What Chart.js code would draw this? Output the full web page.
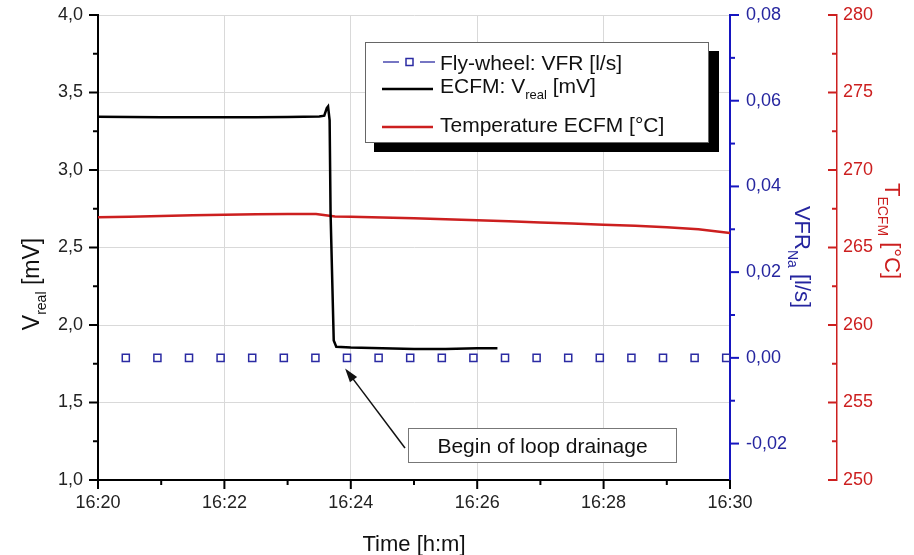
<!DOCTYPE html>
<html>
<head>
<meta charset="utf-8">
<script src="https://cdn.jsdelivr.net/npm/chart.js@4/dist/chart.umd.min.js"></script>
<style>
  html, body { margin: 0; padding: 0; background: #fff; }
</style>
</head>
<body>
<canvas id="myChart" width="914" height="555"></canvas>
<script>
// time is given in minutes after 16:20
const xTickLabels = ['16:20', '16:22', '16:24', '16:26', '16:28', '16:30']

// ECFM: V_real [mV]
const vTime = [0, 0.5, 1, 1.5, 2, 2.5, 3, 3.5, 3.58, 3.62, 3.64, 3.665, 3.68, 3.73, 3.77, 4, 4.5, 5, 5.5, 6, 6.32]
const vReal = [3.343, 3.342, 3.34, 3.34, 3.34, 3.341, 3.342, 3.345, 3.35, 3.40, 3.41, 3.32, 2.72, 1.90, 1.86, 1.855, 1.85, 1.845, 1.845, 1.85, 1.85]

// Temperature ECFM [°C]
const tTime = [0, 0.5, 1, 1.5, 2, 2.5, 3, 3.45, 3.6, 3.75, 4, 4.5, 5, 5.5, 6, 6.5, 7, 7.5, 8, 8.5, 9, 9.5, 10]
const tEcfm = [266.95, 266.99, 267.04, 267.08, 267.11, 267.14, 267.16, 267.16, 267.08, 267.0, 266.98, 266.93, 266.88, 266.83, 266.76, 266.69, 266.62, 266.55, 266.47, 266.4, 266.3, 266.18, 265.94]

// Fly-wheel: VFR [l/s]
const vfrTime = [0.44, 0.94, 1.44, 1.94, 2.44, 2.94, 3.44, 3.94, 4.44, 4.94, 5.44, 5.94, 6.44, 6.94, 7.44, 7.94, 8.44, 8.94, 9.44, 9.94]
const vfr = [0, 0, 0, 0, 0, 0, 0, 0, 0, 0, 0, 0, 0, 0, 0, 0, 0, 0, 0, 0]

const FONT = '"Liberation Sans", Arial, sans-serif'
const BLUE = '#1616c0'
const BLUE_TXT = '#25259f'
const RED = '#cc1f1f'
const GRID = '#d9d9d9'

const pts = (xs, ys) => xs.map((x, i) => ({ x: x, y: ys[i] }))
const comma = (v, d) => v.toFixed(d).replace('.', ',')

function minorTicks(ctx, scale, from, to, step, isMajor, side, color) {
  ctx.save()
  ctx.strokeStyle = color
  ctx.lineWidth = 2
  for (let v = from; v <= to + 1e-9; v += step) {
    const len = isMajor(v) ? 9 : 5
    ctx.beginPath()
    if (side === 'down') {
      const p = scale.getPixelForValue(v)
      ctx.moveTo(p, scale.top); ctx.lineTo(p, scale.top + len)
    } else if (side === 'left') {
      const p = scale.getPixelForValue(v)
      ctx.moveTo(scale.right, p); ctx.lineTo(scale.right - len, p)
    } else if (side === 'right') {
      const p = scale.getPixelForValue(v)
      ctx.moveTo(scale.left, p); ctx.lineTo(scale.left + len, p)
    } else if (side === 'inLeft') {
      const p = scale.getPixelForValue(v)
      ctx.moveTo(scale.left, p); ctx.lineTo(scale.left - len, p)
    }
    ctx.stroke()
  }
  ctx.restore()
}

// text with a subscript part, written along the current x direction
function subText(ctx, parts, x, y, size, subSize) {
  let cx = x
  parts.forEach(p => {
    ctx.font = (p.sub ? subSize : size) + 'px ' + FONT
    ctx.fillText(p.t, cx, p.sub ? y + size * 0.3 : y)
    cx += ctx.measureText(p.t).width
  })
  return cx - x
}
function subWidth(ctx, parts, size, subSize) {
  let w = 0
  parts.forEach(p => {
    ctx.font = (p.sub ? subSize : size) + 'px ' + FONT
    w += ctx.measureText(p.t).width
  })
  return w
}

function rotTitle(ctx, parts, cx, cy, angle, color, size) {
  const subSize = 14
  ctx.save()
  ctx.fillStyle = color
  ctx.textBaseline = 'alphabetic'
  ctx.translate(cx, cy)
  ctx.rotate(angle)
  const w = subWidth(ctx, parts, size, subSize)
  subText(ctx, parts, -w / 2, 8, size, subSize)
  ctx.restore()
}

// no extra room above/below the vertical axes, the plot starts at the layout padding
const noPad = s => { s.paddingTop = 0; s.paddingBottom = 0 }

const extras = {
  id: 'extras',
  afterDraw(chart) {
    const ctx = chart.ctx
    const s = chart.scales
    minorTicks(ctx, s.x, 0, 10, 1, v => Math.round(v) % 2 === 0, 'down', '#000')
    minorTicks(ctx, s.y, 1, 4, 0.25, v => Math.abs(v * 2 - Math.round(v * 2)) < 1e-6, 'left', '#000')
    minorTicks(ctx, s.yB, -0.02, 0.08, 0.01, v => Math.round(v * 100) % 2 === 0, 'right', BLUE)
    minorTicks(ctx, s.yT, 250, 280, 2.5, v => Math.abs(v / 5 - Math.round(v / 5)) < 1e-6, 'inLeft', RED)

    // axis titles
    rotTitle(ctx, [{ t: 'V' }, { t: 'real', sub: true }, { t: ' [mV]' }], 31, 284, -Math.PI / 2, '#111', 23)
    rotTitle(ctx, [{ t: 'VFR' }, { t: 'Na', sub: true }, { t: ' [l/s]' }], 803, 257, Math.PI / 2, BLUE_TXT, 22)
    rotTitle(ctx, [{ t: 'T' }, { t: 'ECFM', sub: true }, { t: ' [°C]' }], 893, 231, Math.PI / 2, RED, 22)
    ctx.save()
    ctx.fillStyle = '#111'
    ctx.font = '22px ' + FONT
    ctx.textAlign = 'center'
    ctx.fillText('Time [h:m]', (chart.chartArea.left + chart.chartArea.right) / 2, 551)
    ctx.restore()

    // legend box with shadow
    ctx.save()
    ctx.fillStyle = '#000'
    ctx.fillRect(374, 51, 345, 101)
    ctx.fillStyle = '#fff'
    ctx.fillRect(365, 42, 344, 101)
    ctx.strokeStyle = '#666'
    ctx.lineWidth = 1
    ctx.strokeRect(365.5, 42.5, 343, 100)

    ctx.lineWidth = 1.5
    ctx.strokeStyle = '#4a4ab0'
    ctx.beginPath()
    ctx.moveTo(383, 62); ctx.lineTo(399, 62)
    ctx.moveTo(420, 62); ctx.lineTo(435, 62)
    ctx.stroke()
    ctx.strokeStyle = '#2b2ba3'
    ctx.strokeRect(406, 58.5, 7, 7)

    ctx.lineWidth = 2.5
    ctx.strokeStyle = '#000'
    ctx.beginPath(); ctx.moveTo(382, 89); ctx.lineTo(433, 89); ctx.stroke()
    ctx.strokeStyle = RED
    ctx.beginPath(); ctx.moveTo(382, 127); ctx.lineTo(433, 127); ctx.stroke()

    ctx.fillStyle = '#111'
    ctx.textBaseline = 'alphabetic'
    ctx.font = '21px ' + FONT
    ctx.fillText('Fly-wheel: VFR [l/s]', 440, 70)
    subText(ctx, [{ t: 'ECFM: V' }, { t: 'real', sub: true }, { t: ' [mV]' }], 440, 93, 21, 13)
    ctx.font = '21px ' + FONT
    ctx.fillText('Temperature ECFM [°C]', 440, 132)

    // annotation
    const tipX = s.x.getPixelForValue(3.91)
    const tipY = s.y.getPixelForValue(1.72)
    const fromX = 405, fromY = 448
    const ang = Math.atan2(tipY - fromY, tipX - fromX)
    ctx.strokeStyle = '#111'
    ctx.lineWidth = 1.5
    ctx.beginPath(); ctx.moveTo(fromX, fromY); ctx.lineTo(tipX - 10 * Math.cos(ang), tipY - 10 * Math.sin(ang)); ctx.stroke()
    ctx.fillStyle = '#111'
    ctx.beginPath()
    ctx.moveTo(tipX, tipY)
    ctx.lineTo(tipX - 14 * Math.cos(ang) + 4.5 * Math.sin(ang), tipY - 14 * Math.sin(ang) - 4.5 * Math.cos(ang))
    ctx.lineTo(tipX - 14 * Math.cos(ang) - 4.5 * Math.sin(ang), tipY - 14 * Math.sin(ang) + 4.5 * Math.cos(ang))
    ctx.closePath()
    ctx.fill()

    ctx.fillStyle = '#fff'
    ctx.fillRect(408, 428, 269, 35)
    ctx.strokeStyle = '#777'
    ctx.lineWidth = 1
    ctx.strokeRect(408.5, 428.5, 268, 34)
    ctx.fillStyle = '#111'
    ctx.font = '21px ' + FONT
    ctx.textAlign = 'center'
    ctx.fillText('Begin of loop drainage', 542.5, 453)
    ctx.restore()
  }
}

const ctx = document.getElementById('myChart').getContext('2d')
const myChart = new Chart(ctx, {
  type: 'scatter',
  data: {
    datasets: [
      {
        label: 'ECFM: V_real [mV]',
        data: pts(vTime, vReal),
        yAxisID: 'y',
        showLine: true,
        borderColor: '#000',
        borderWidth: 2.5,
        pointRadius: 0,
        tension: 0
      },
      {
        label: 'Fly-wheel: VFR [l/s]',
        data: pts(vfrTime, vfr),
        yAxisID: 'yB',
        showLine: false,
        pointStyle: 'rect',
        pointRadius: 5,
        borderWidth: 1.5,
        borderColor: '#2b2ba3',
        backgroundColor: 'rgba(255,255,255,0)'
      },
      {
        label: 'Temperature ECFM [°C]',
        data: pts(tTime, tEcfm),
        yAxisID: 'yT',
        showLine: true,
        borderColor: RED,
        borderWidth: 2.5,
        pointRadius: 0,
        tension: 0
      }
    ]
  },
  options: {
    responsive: false,
    animation: false,
    devicePixelRatio: 1,
    layout: { padding: { top: 15, right: 0, bottom: 0, left: 0 } },
    plugins: {
      legend: { display: false },
      tooltip: { enabled: false }
    },
    scales: {
      x: {
        type: 'linear',
        position: 'bottom',
        min: 0,
        max: 10,
        ticks: {
          stepSize: 2,
          color: '#222',
          padding: 12,
          font: { family: FONT, size: 18 },
          callback: v => xTickLabels[Math.round(v / 2)]
        },
        grid: {
          drawTicks: false,
          color: c => (c.tick && c.tick.value > 0 && c.tick.value < 10) ? GRID : 'rgba(0,0,0,0)'
        },
        border: { color: '#000', width: 2 },
        afterFit: s => { s.height = 75 }
      },
      y: {
        position: 'left',
        min: 1,
        max: 4,
        ticks: {
          stepSize: 0.5,
          color: '#222',
          padding: 15,
          font: { family: FONT, size: 18 },
          callback: v => comma(v, 1)
        },
        grid: {
          drawTicks: false,
          color: c => (c.tick && c.tick.value > 1) ? GRID : 'rgba(0,0,0,0)'
        },
        border: { color: '#000', width: 2 },
        afterFit: s => { s.width = 98; noPad(s) }
      },
      yB: {
        position: 'right',
        weight: 0,
        min: -0.0285,
        max: 0.08,
        ticks: {
          stepSize: 0.02,
          includeBounds: false,
          color: BLUE_TXT,
          padding: 16,
          font: { family: FONT, size: 18 },
          callback: v => comma(v, 2)
        },
        grid: { drawOnChartArea: false, drawTicks: false },
        border: { color: BLUE, width: 2 },
        afterFit: s => { s.width = 107; noPad(s) }
      },
      yT: {
        position: 'right',
        weight: 1,
        min: 250,
        max: 280,
        ticks: {
          stepSize: 5,
          color: RED,
          padding: 6,
          font: { family: FONT, size: 18 },
          callback: v => String(v)
        },
        grid: { drawOnChartArea: false, drawTicks: false },
        border: { color: RED, width: 1.5 },
        afterFit: s => { s.width = 77; noPad(s) }
      }
    }
  },
  plugins: [extras]
})
</script>
</body>
</html>
